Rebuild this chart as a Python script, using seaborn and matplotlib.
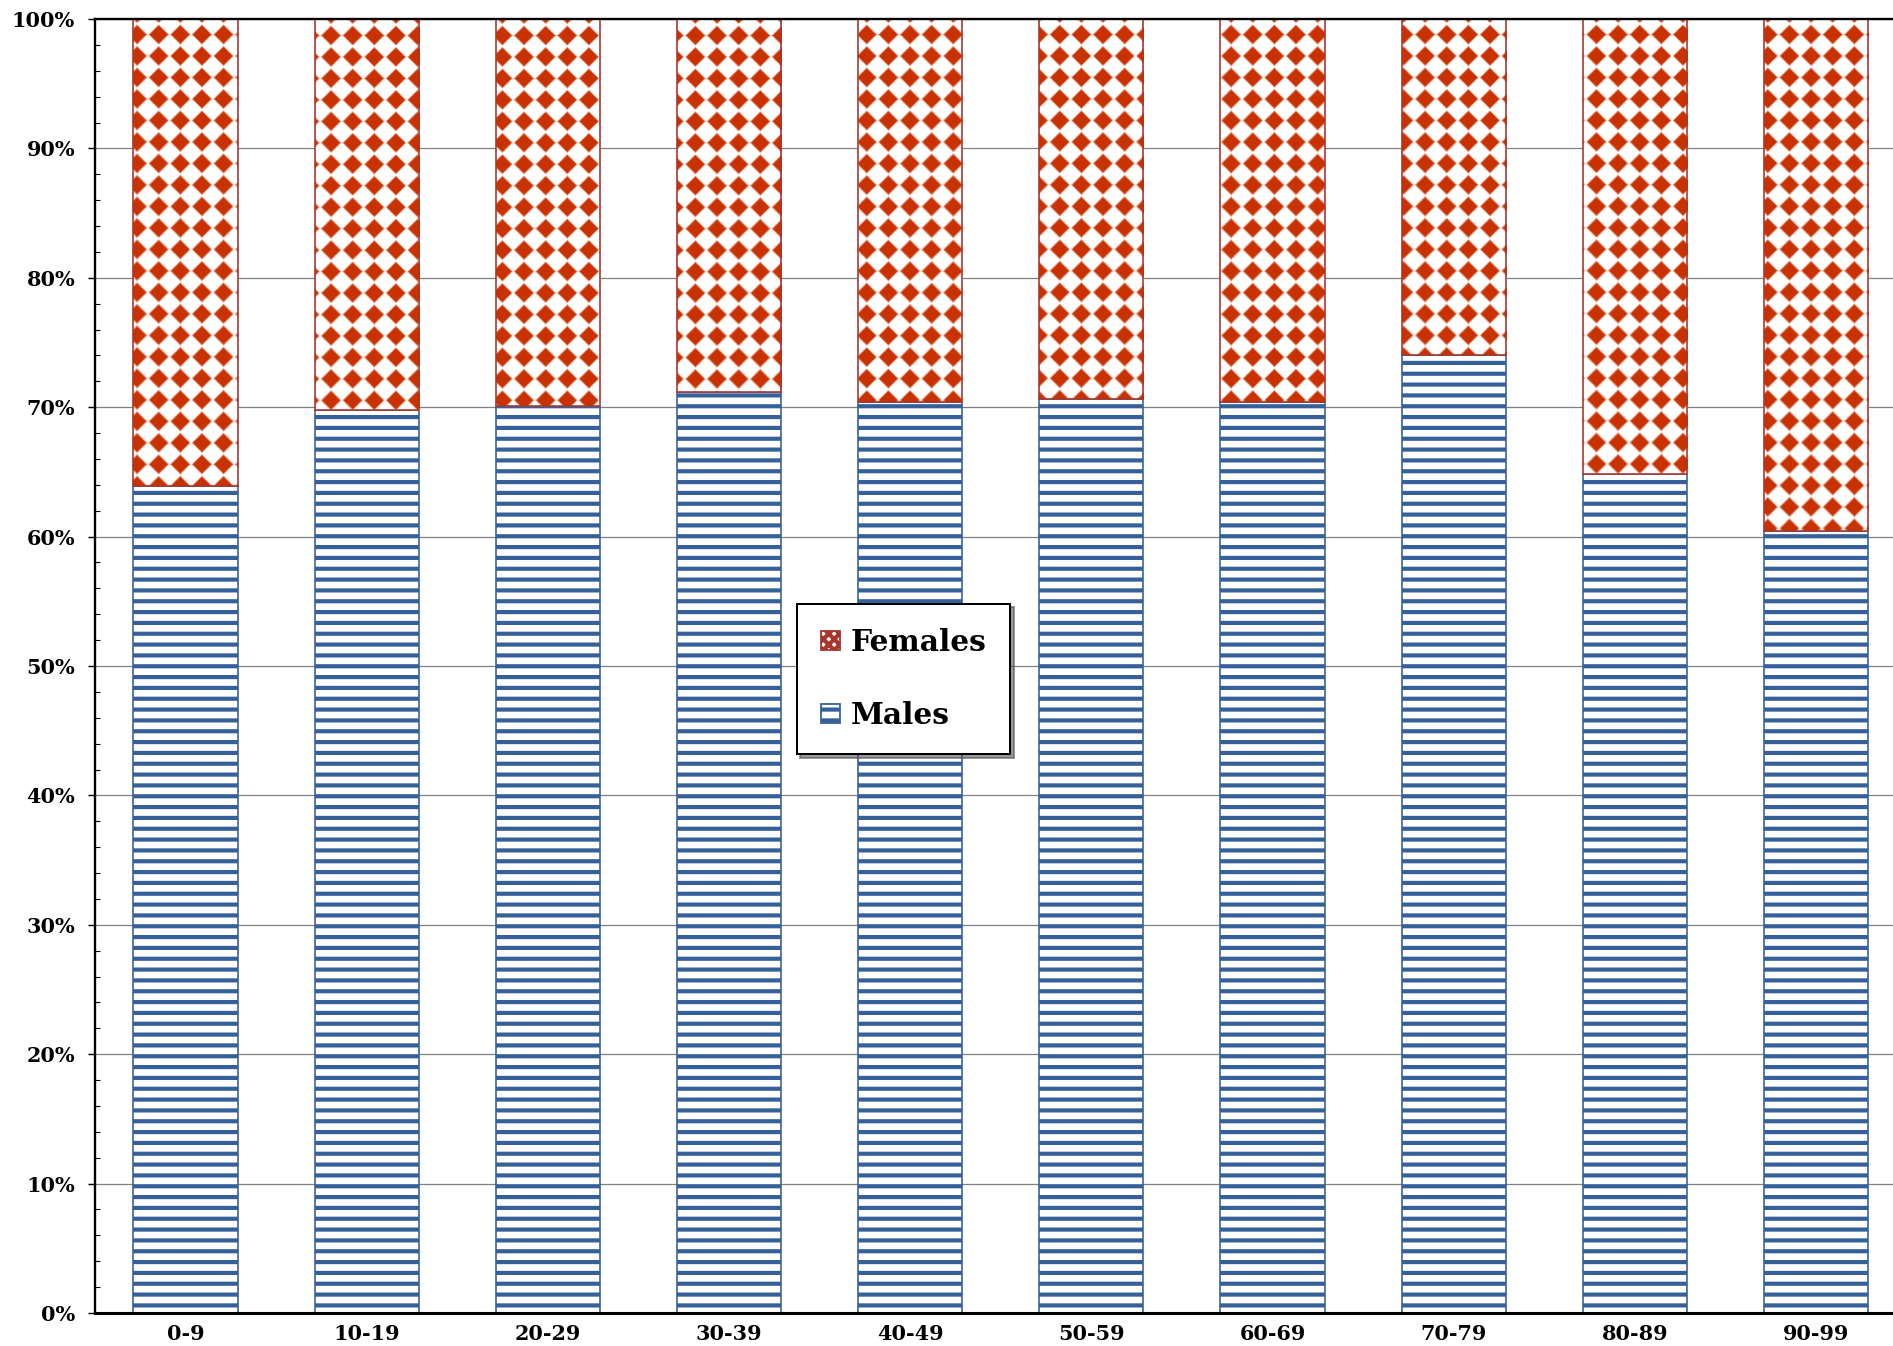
import numpy as np
import pandas as pd
import matplotlib.pyplot as plt
import matplotlib.patches as mpatches
from matplotlib.ticker import MultipleLocator, PercentFormatter
import seaborn as sns

# share of each sex per age group (%)
age_groups = ['0-9', '10-19', '20-29', '30-39', '40-49',
              '50-59', '60-69', '70-79', '80-89', '90-99']
males = [63.9, 69.8, 70.1, 71.2, 70.4, 70.6, 70.4, 74.0, 64.8, 60.4]
females = [36.1, 30.2, 29.9, 28.8, 29.6, 29.4, 29.6, 26.0, 35.2, 39.6]

df = pd.DataFrame({'age': age_groups, 'Males': males, 'Females': females})

blue = '#36609a'
red = '#c93200'
red_edge = '#a8352c'

sns.set_style('white')
plt.rcParams['font.family'] = ['DejaVu Serif']
plt.rcParams['font.weight'] = 'bold'
plt.rcParams['text.color'] = 'black'
plt.rcParams['xtick.color'] = 'black'
plt.rcParams['ytick.color'] = 'black'
plt.rcParams['hatch.linewidth'] = 2.3

dpi = 130
fig = plt.figure(figsize=(1893 / dpi, 1346 / dpi), dpi=dpi)
ax = fig.add_axes([95 / 1893, 33 / 1346, 1 - 95 / 1893, 1294 / 1346])

# males at the bottom, striped
sns.barplot(data=df, x='age', y='Males', color='white', saturation=1,
            edgecolor=blue, linewidth=0.9, hatch='--', width=0.575,
            errorbar=None, ax=ax)

# females stacked on top
n0 = len(ax.patches)
sns.barplot(data=df, x='age', y='Females', color='white', saturation=1,
            edgecolor=red_edge, linewidth=0.9, width=0.575,
            errorbar=None, ax=ax)
fem_bars = ax.patches[n0:]
for bar, m in zip(fem_bars, df['Males']):
    bar.set_y(m)
    bar.set_facecolor('none')
    bar.set_zorder(2)

# diamond texture for the female bars
w, h = 1798, 1294
yy, xx = np.mgrid[0:h, 0:w]
p = 21.45
u = ((xx - 20.6 + p / 2) % p) - p / 2
v = ((yy - 16.0 + p / 2) % p) - p / 2
d = np.abs(u) + np.abs(v)
a = np.clip((9.6 + 1.2 - d) / 2.4, 0, 1)[..., None]
rgb = np.array([201, 50, 0]) / 255.0
tex = np.ones((h, w, 3)) * (1 - a) + rgb * a

xlim = (-0.5, 9.425)
for bar in fem_bars:
    im = ax.imshow(tex, extent=(xlim[0], xlim[1], 0, 100), aspect='auto',
                   interpolation='bilinear', zorder=1.5)
    im.set_clip_path(bar)

ax.set_xlim(*xlim)
ax.set_ylim(0, 100)
ax.set_xlabel('')
ax.set_ylabel('')

ax.yaxis.set_major_locator(MultipleLocator(10))
ax.yaxis.set_minor_locator(MultipleLocator(2))
ax.yaxis.set_major_formatter(PercentFormatter(decimals=0))
ax.set_axisbelow(True)
ax.yaxis.grid(True, color='#808080', linewidth=0.7)
ax.xaxis.grid(False)

ax.tick_params(axis='y', which='major', direction='out', length=4, width=0.8,
               pad=7, labelsize=11.5, left=True)
ax.tick_params(axis='y', which='minor', direction='in', length=2.8, width=0.6,
               left=True)
ax.tick_params(axis='x', length=0, pad=6, labelsize=11.5)
for lab in ax.get_xticklabels() + ax.get_yticklabels():
    lab.set_fontweight('bold')

for s in ['left', 'top']:
    ax.spines[s].set_color('black')
    ax.spines[s].set_linewidth(1.3)
ax.spines['bottom'].set_color('black')
ax.spines['bottom'].set_linewidth(1.7)
ax.spines['right'].set_visible(False)

handles = [
    mpatches.Patch(facecolor='white', edgecolor=red_edge, hatch='xxxx', label='Females'),
    mpatches.Patch(facecolor='white', edgecolor=blue, hatch='--', label='Males'),
]
leg = ax.legend(handles=handles, loc='center',
                bbox_to_anchor=(0.4773, 0.4955), bbox_transform=fig.transFigure,
                frameon=True, fancybox=False, shadow={'color': '#555555', 'alpha': 0.6},
                framealpha=1, edgecolor='black',
                prop={'family': 'DejaVu Serif', 'weight': 'bold', 'size': 16.5},
                handlelength=0.65, handleheight=0.6, handletextpad=0.35,
                labelspacing=1.5, borderpad=0.8)
leg.get_frame().set_linewidth(1.1)
for t in leg.get_texts():
    t.set_color('black')

fig.savefig('out.png', dpi=dpi)
